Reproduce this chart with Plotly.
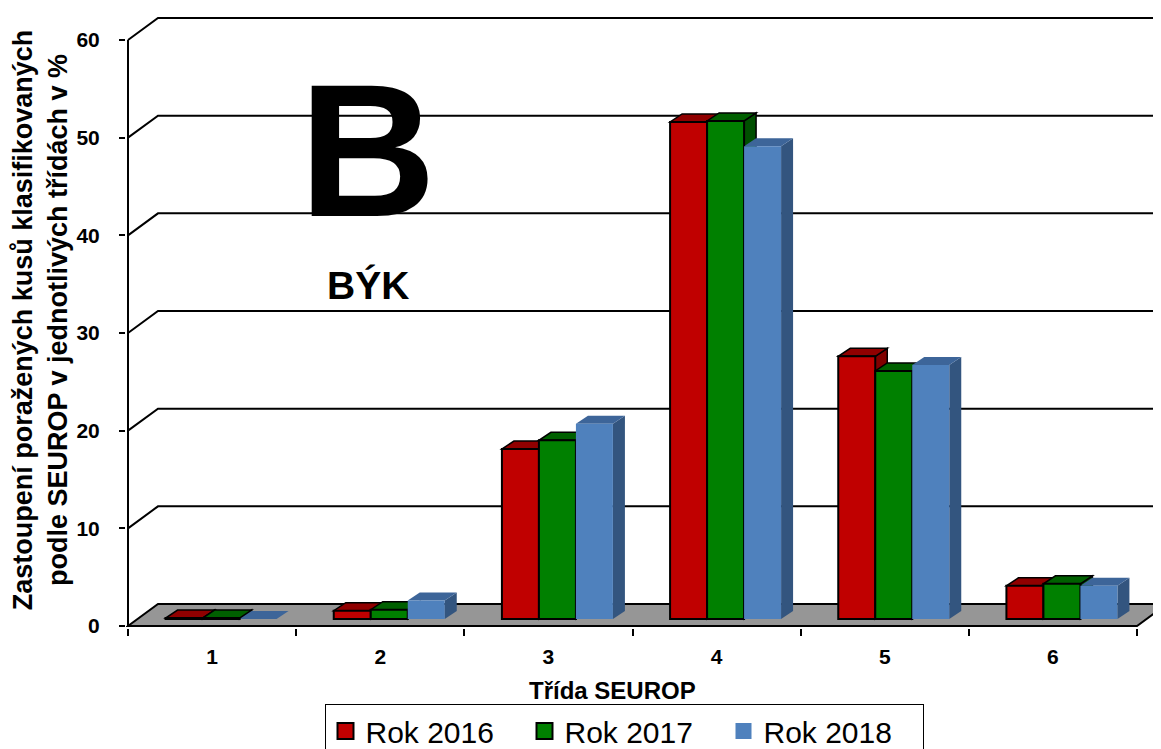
import plotly.graph_objects as go

# ---------------- data ----------------
categories = [1, 2, 3, 4, 5, 6]
tick_labels = ["1", "2", "3", "4", "5", "6"]
series_names = ["Rok 2016", "Rok 2017", "Rok 2018"]
rok_2016 = [0.1, 0.85, 17.4, 50.9, 26.9, 3.4]
rok_2017 = [0.1, 0.95, 18.3, 51.0, 25.4, 3.6]
rok_2018 = [0.0, 1.9, 20.0, 48.4, 26.0, 3.4]
y_ticks = [0, 10, 20, 30, 40, 50, 60]

# ---------------- styling ----------------
FONT = "Arial, 'Liberation Sans', sans-serif"
front_colors = ["#C00000", "#008000", "#4F81BD"]
top_colors = ["#900000", "#006000", "#3D6599"]
side_colors = ["#800000", "#004F00", "#33557F"]
outline = [True, True, False]

OFF = 8                       # page body margin of the browser
SCR_W, SCR_H = 1161, 749
W, H = SCR_W - OFF, SCR_H - OFF
# target positions in screenshot pixels
PX_L, PX_R = 128, 1137        # x of category-axis ends (front)
PY_0, PY_60 = 626, 40         # y of value 0 and 60 (front)
ML, MR, MT, MB = 126 - OFF, 0, 12 - OFF, SCR_H - 628
SX = (PX_R - PX_L) / 6.0
SY = (PY_0 - PY_60) / 60.0
x_range = [0.5 - (PX_L - OFF - ML) / SX, 0.5 + (W - MR - (PX_L - OFF)) / SX]
y_range = [-((H - MB) - (PY_0 - OFF)) / SY, 60 + ((PY_60 - OFF) - MT) / SY]

DX, DY = 30 / SX, 22 / SY      # floor / wall depth
BDX, BDY = 12 / SX, 8 / SY     # bar depth
FOX, FOY = (DX - BDX) / 2, (DY - BDY) / 2   # bar front offset (mid depth)
BW = 37 / SX                   # bar width
offsets = [-1.5 * BW + FOX, -0.5 * BW + FOX, 0.5 * BW + FOX]
XMAX = x_range[1] + 1

fig = go.Figure()
shapes = []

# back wall / side wall gridlines
for v in y_ticks[1:]:
    shapes.append(dict(type="path", xref="x", yref="y", layer="below",
                       path=f"M {0.5},{v} L {0.5+DX},{v+DY} L {XMAX},{v+DY}",
                       line=dict(color="black", width=2)))
# floor
shapes.append(dict(type="path", xref="x", yref="y", layer="below",
                   path=f"M 0.5,0 L 6.5,0 L {6.5+DX},{DY} L {XMAX},{DY} L {0.5+DX},{DY} Z",
                   fillcolor="#969696", line=dict(color="black", width=2)))
# value axis line
shapes.append(dict(type="line", xref="x", yref="y", layer="above",
                   x0=0.5, x1=0.5, y0=0, y1=60, line=dict(color="black", width=2)))

all_series = [rok_2016, rok_2017, rok_2018]
for si, vals in enumerate(all_series):
    lc = "black" if outline[si] else "rgba(0,0,0,0)"
    lw = 1.5 if outline[si] else 0
    for ci, v in enumerate(vals):
        xl = categories[ci] + offsets[si]
        xr = xl + BW
        b = FOY
        t = FOY + v
        # side face
        shapes.append(dict(type="path", xref="x", yref="y", layer="below",
                           path=f"M {xr},{b} L {xr+BDX},{b+BDY} L {xr+BDX},{t+BDY} L {xr},{t} Z",
                           fillcolor=side_colors[si], line=dict(color=lc, width=lw)))
        # top face
        shapes.append(dict(type="path", xref="x", yref="y", layer="below",
                           path=f"M {xl},{t} L {xr},{t} L {xr+BDX},{t+BDY} L {xl+BDX},{t+BDY} Z",
                           fillcolor=top_colors[si], line=dict(color=lc, width=lw)))
    fig.add_trace(go.Bar(
        x=categories, y=vals, base=[FOY] * len(vals), width=BW, offset=offsets[si],
        marker=dict(color=front_colors[si], line=dict(color=lc, width=2 if outline[si] else 0)),
        name=series_names[si], showlegend=False))

# legend entries
for si in range(3):
    fig.add_trace(go.Scatter(
        x=[None], y=[None], mode="markers", name=series_names[si],
        marker=dict(symbol="square", size=18, color=front_colors[si],
                    line=dict(color="black" if outline[si] else front_colors[si],
                              width=2 if outline[si] else 0))))

def px_to_paper_x(px):
    return (px - OFF - ML) / (W - ML - MR)

def px_to_paper_y(py):
    return (H - MB - (py - OFF)) / (H - MB - MT)

annotations = [
    dict(text="<b>B</b>", x=px_to_paper_x(367), y=px_to_paper_y(150), xref="paper", yref="paper",
         showarrow=False, xanchor="center", yanchor="middle",
         font=dict(family=FONT, size=190, color="black")),
    dict(text="<b>BÝK</b>", x=px_to_paper_x(367.5), y=px_to_paper_y(285.5), xref="paper", yref="paper",
         showarrow=False, xanchor="center", yanchor="middle",
         font=dict(family=FONT, size=39, color="black")),
    dict(text="<b>Třída SEUROP</b>", x=px_to_paper_x(612), y=px_to_paper_y(690), xref="paper", yref="paper",
         showarrow=False, xanchor="center", yanchor="middle",
         font=dict(family=FONT, size=24, color="black")),
]

fig.update_layout(
    width=W, height=H,
    margin=dict(l=ML, r=MR, t=MT, b=MB, autoexpand=False),
    paper_bgcolor="white", plot_bgcolor="white",
    barmode="overlay",
    shapes=shapes,
    annotations=annotations,
    font=dict(family=FONT, color="black"),
    showlegend=True,
    legend=dict(orientation="h", x=px_to_paper_x(624), xanchor="center",
                y=px_to_paper_y(704), yanchor="top",
                bordercolor="black", borderwidth=1, bgcolor="white",
                font=dict(family=FONT, size=30, color="black"),
                itemwidth=30, tracegroupgap=0,
                entrywidth=154, entrywidthmode="pixels"),
    xaxis=dict(range=x_range, showgrid=False, zeroline=False, showline=False,
               automargin=False,
               tickmode="array", tickvals=categories, ticktext=tick_labels, ticks="",
               ticklabelstandoff=14,
               tickfont=dict(family=FONT, size=21, color="black", weight="bold"),
               minor=dict(tickmode="array", tickvals=[c - 0.5 for c in categories] + [6.5],
                          ticks="outside", ticklen=7, tickwidth=1.5, tickcolor="black",
                          showgrid=False),
               fixedrange=True),
    yaxis=dict(range=y_range, showgrid=False, zeroline=False, showline=False,
               automargin=False,
               tickmode="array", tickvals=y_ticks, ticks="outside", ticklen=6,
               tickwidth=1.5, tickcolor="black", ticklabelstandoff=15,
               tickfont=dict(family=FONT, size=21, color="black", weight="bold"),
               title=dict(text="<b>Zastoupení poražených kusů klasifikovaných<br>podle SEUROP v jednotlivých třídách v %</b>",
                          font=dict(family=FONT, size=27, color="black"), standoff=0),
               fixedrange=True),
)

fig.write_html("out.html")
